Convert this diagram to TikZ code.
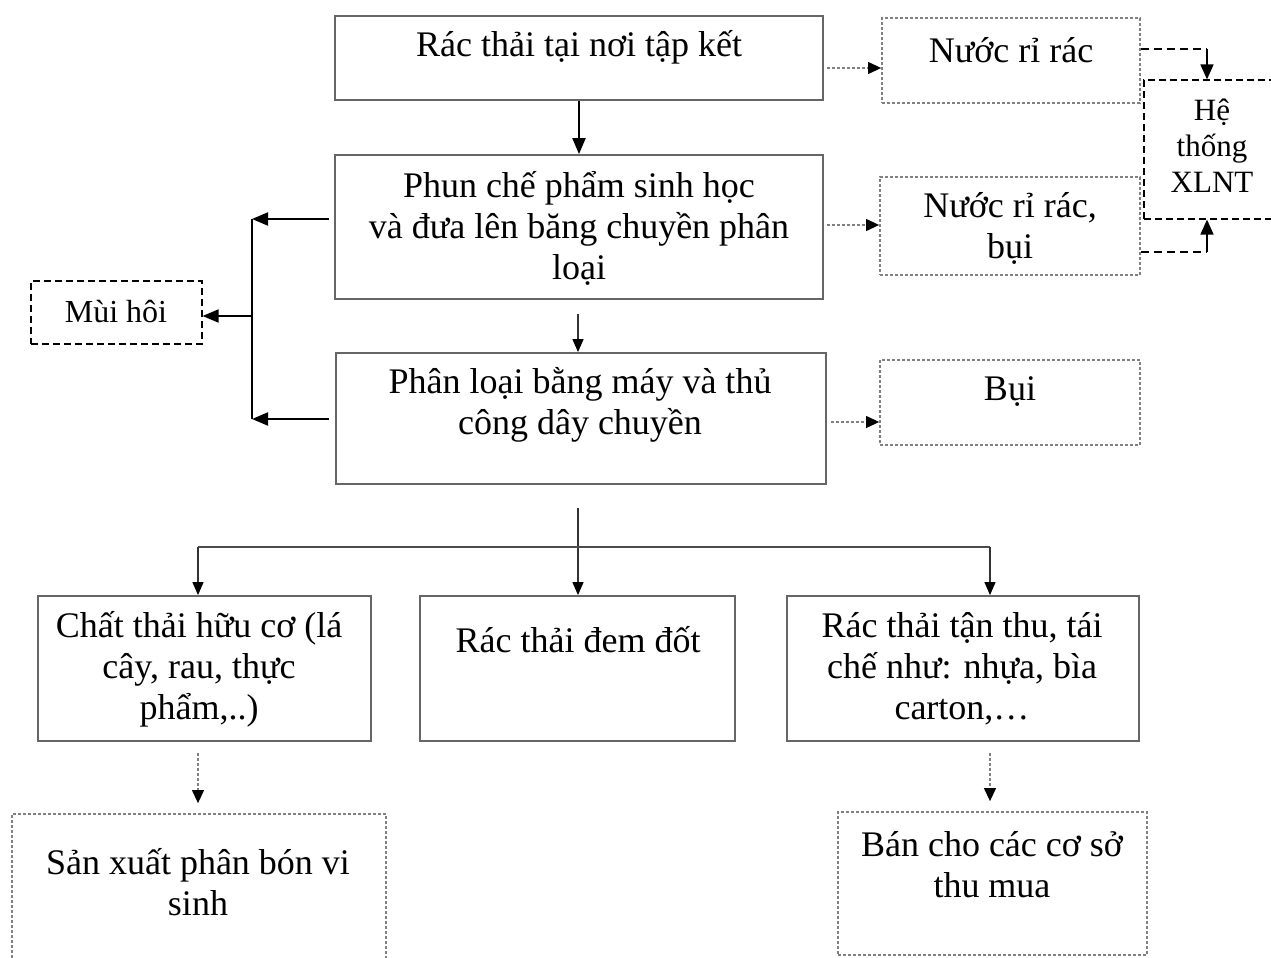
\documentclass[tikz,border=0pt]{standalone}
\usepackage{fontspec}
\setmainfont{Liberation Serif}
\usetikzlibrary{arrows.meta,fit,calc}
\begin{document}
\begin{tikzpicture}[x=0.5pt,y=-0.5pt,
 solidbox/.style={draw=black!60, line width=0.9pt, inner sep=0pt},
 graybox/.style={draw=black!50, line width=0.9pt, dash pattern=on 1.5pt off 1pt, inner sep=0pt},
 blackbox/.style={draw=black, line width=0.6pt, dash pattern=on 3.5pt off 2pt, inner sep=0pt},
 txt/.style={font=\fontsize{18}{20.5}\selectfont, align=center, inner sep=0pt},
 bigarr/.style={draw=black, line width=1pt, -{Triangle[length=8pt,width=6.5pt]}},
 thinarr/.style={draw=black!80, line width=0.6pt, -{Triangle[length=6.5pt,width=5.5pt,color=black]}},
 thinline/.style={draw=black!70, line width=0.7pt},
 dotarr/.style={draw=black!50, line width=0.6pt, dash pattern=on 1.5pt off 1pt, -{Triangle[length=6.5pt,width=6pt,color=black]}},
 dashline/.style={draw=black, line width=0.8pt, dash pattern=on 4pt off 2.5pt},
 shortarr/.style={draw=black, line width=0.8pt, -{Triangle[length=7.5pt,width=6.5pt]}}
]
\useasboundingbox (0,0) rectangle (1271,958);
\clip (0,0) rectangle (1271,958);

% boxes
\node[solidbox, fit={(335,16) (823,100)}] (a) {};
\node[txt] (ta) at (579,47) {Rác thải tại nơi tập kết};
\node[graybox, fit={(882,18) (1140,103)}] (b) {};
\node[txt] (tb) at (1011,50) {Nước rỉ rác};
\node[solidbox, fit={(335,155) (823,299)}] (c) {};
\node[txt] (tc) at (579,228) {Phun chế phẩm sinh học\\và đưa lên băng chuyền phân\\loại};
\node[graybox, fit={(880,177) (1140,275)}] (d) {};
\node[txt] (td) at (1010,228) {Nước rỉ rác,\\bụi};
\node[blackbox, fit={(1144,80) (1300,219)}] (e) {};
\node[txt, font=\fontsize{15.5}{18}\selectfont] (te) at (1212,146) {Hệ\\thống\\XLNT};
\node[blackbox, fit={(31,281) (202,344)}] (f) {};
\node[txt, font=\fontsize{16}{18}\selectfont] (tf) at (116,312) {Mùi hôi};
\node[solidbox, fit={(336,353) (826,484)}] (g) {};
\node[txt] (tg) at (580,405) {Phân loại bằng máy và thủ\\công dây chuyền};
\node[graybox, fit={(880,360) (1140,445)}] (h) {};
\node[txt] (th) at (1010,392) {Bụi};
\node[solidbox, fit={(38,596) (371,741)}] (i) {};
\node[txt] (ti) at (199,669) {Chất thải hữu cơ (lá\\cây, rau, thực\\phẩm,..)};
\node[solidbox, fit={(420,596) (735,741)}] (j) {};
\node[txt] (tj) at (578,640) {Rác thải đem đốt};
\node[solidbox, fit={(787,596) (1139,741)}] (k) {};
\node[txt] (tk) at (962,669) {Rác thải tận thu, tái\\chế như: nhựa, bìa\\carton,…};
\node[graybox, fit={(12,814) (386,990)}] (l) {};
\node[txt] (tl) at (198,882) {Sản xuất phân bón vi\\sinh};
\node[graybox, fit={(838,812) (1147,955)}] (m) {};
\node[txt] (tm) at (992,865) {Bán cho các cơ sở\\thu mua};

% main flow
\draw[bigarr] (a) -- (c);
\coordinate (cg) at (578,314);
\draw[thinarr] (cg) -- (cg|-g.north);

% right dotted
\coordinate (ab) at (850,68);
\draw[dotarr] ($(a.east|-ab)+(3,0)$) -- (b.west|-ab);
\coordinate (cd) at (850,225);
\draw[dotarr] ($(c.east|-cd)+(3,0)$) -- (d.west|-cd);
\coordinate (gh) at (850,422);
\draw[dotarr] ($(g.east|-gh)+(4,0)$) -- (h.west|-gh);

% to XLNT
\coordinate (be) at (1207,49);
\draw[dashline] (b.east|-be) -- (be);
\draw[shortarr] (be) -- (be|-e.north);
\coordinate (de) at (1207,252);
\draw[dashline] (d.east|-de) -- (de);
\draw[shortarr] (de) -- (de|-e.south);

% left
\coordinate (j1) at (252,219);
\coordinate (j2) at (252,419);
\coordinate (j3) at (252,316);
\draw[bigarr] ($(c.west|-j1)+(-5,0)$) -- (j1);
\draw[bigarr] ($(g.west|-j2)+(-6,0)$) -- (j2);
\draw[line width=1pt] (j1) -- (j2);
\draw[bigarr] (j3) -- (f.east|-j3);

% bottom
\coordinate (gb) at (578,508);
\draw[thinarr] (gb) -- (gb|-j.north);
\coordinate (hl) at (198,547);
\coordinate (hr) at (990,547);
\draw[thinline] (hl) -- (hr);
\draw[thinarr] (hl) -- (hl|-i.north);
\draw[thinarr] (hr) -- (hr|-k.north);
\coordinate (il) at (198,753);
\draw[dotarr, shorten >=5pt] (il) -- (il|-l.north);
\coordinate (km) at (990,753);
\draw[dotarr, shorten >=5pt] (km) -- (km|-m.north);
\end{tikzpicture}
\end{document}
